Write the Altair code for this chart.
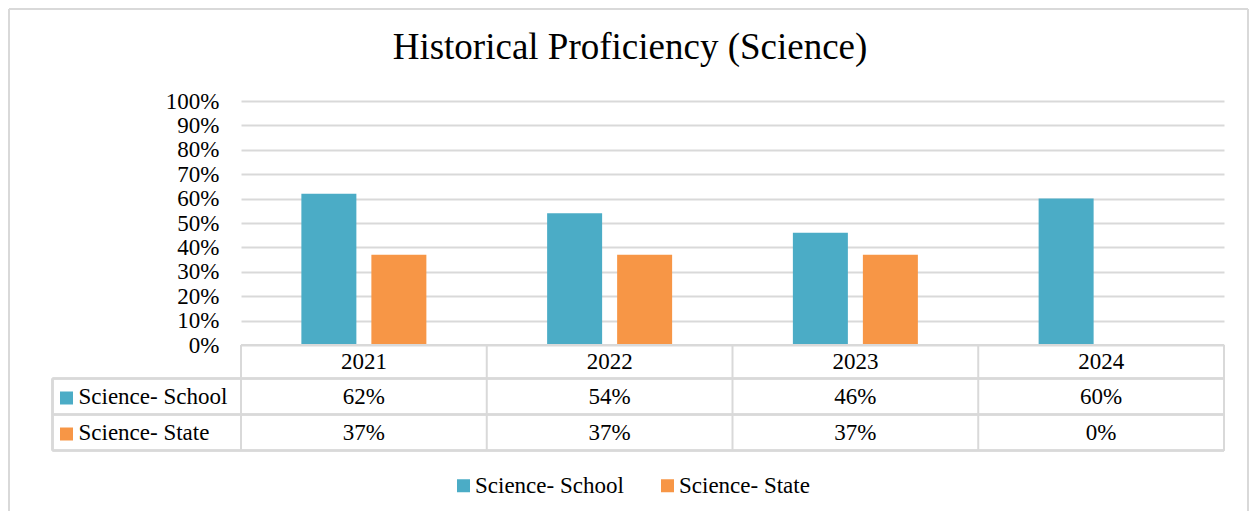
import altair as alt
import pandas as pd

years = ["2021", "2022", "2023", "2024"]
series = ["Science- School", "Science- State"]
school = [0.62, 0.54, 0.46, 0.60]
state = [0.37, 0.37, 0.37, 0.0]
colors = ["#4BACC6", "#F79646"]
title_text = "Historical Proficiency (Science)"

rows = []
for y, v in zip(years, school):
    rows.append({"year": y, "series": series[0], "value": v})
for y, v in zip(years, state):
    rows.append({"year": y, "series": series[1], "value": v})
df = pd.DataFrame(rows)
years_df = pd.DataFrame({"year": years})

FONT = "Liberation Serif, Times New Roman, serif"
GRID = "#D9D9D9"
W, H = 983, 244
base = alt.Chart(df)

xenc = alt.X("year:N", sort=years, axis=None,
             scale=alt.Scale(paddingInner=0, paddingOuter=0))

bars = base.mark_bar().encode(
    x=xenc,
    xOffset=alt.XOffset("series:N", sort=series,
                        scale=alt.Scale(paddingInner=0.2143, paddingOuter=0.8625)),
    y=alt.Y("value:Q", title=None,
            scale=alt.Scale(domain=[0, 1], nice=False),
            axis=alt.Axis(format=".0%", values=[i / 10 for i in range(11)],
                          domain=False, ticks=False, gridColor=GRID, gridWidth=2,
                          labelFont=FONT, labelFontSize=23, labelColor="black",
                          labelPadding=22)),
    color=alt.Color("series:N", sort=series,
                    scale=alt.Scale(domain=series, range=colors),
                    legend=alt.Legend(title=None, orient="none", direction="horizontal",
                                      legendX=211, legendY=373, padding=0,
                                      symbolType="square", symbolSize=169,
                                      symbolStrokeWidth=0, labelOffset=0,
                                      columnPadding=32, labelFont=FONT,
                                      labelFontSize=23, labelColor="black")),
)

line_style = dict(color=GRID, strokeWidth=2)

# header year labels
header = alt.Chart(years_df).mark_text(font=FONT, fontSize=23, color="black",
                                       baseline="middle").encode(
    x=xenc, y=alt.value(261), text="year:N")

# vertical table lines at band starts
vlines = alt.Chart(years_df).mark_rule(**line_style).encode(
    x=alt.X("year:N", sort=years, bandPosition=0, axis=None),
    y=alt.value(244), y2=alt.value(349.5))

extra = []
extra.append(alt.Chart(years_df).mark_rule(**line_style).encode(
    x=alt.value(W), y=alt.value(244), y2=alt.value(349.5)))
extra.append(alt.Chart(years_df).mark_rule(**line_style).encode(
    x=alt.value(-188.5), y=alt.value(277.5), y2=alt.value(349.5)))
extra.append(alt.Chart(years_df).mark_rule(**line_style).encode(
    x=alt.value(0), x2=alt.value(W), y=alt.value(244)))
for yy in [277.5, 313.5, 349.5]:
    extra.append(alt.Chart(years_df).mark_rule(**line_style).encode(
        x=alt.value(-188.5), x2=alt.value(W), y=alt.value(yy)))

# table rows
row_y = [295.5, 331.5]
for s, c, ry in zip(series, colors, row_y):
    sub = base.transform_filter(alt.datum.series == s)
    extra.append(sub.mark_text(font=FONT, fontSize=23, color="black",
                               baseline="middle").encode(
        x=xenc, y=alt.value(ry), text=alt.Text("value:Q", format=".0%")))
    lab = alt.Chart(pd.DataFrame({"series": [s]}))
    extra.append(lab.mark_square(size=169, color=c, opacity=1).encode(
        x=alt.value(-174.5), y=alt.value(ry + 1.5)))
    extra.append(lab.mark_text(font=FONT, fontSize=23, color="black", align="left",
                               baseline="middle").encode(
        x=alt.value(-162.5), y=alt.value(ry), text="series:N"))

# title
extra.append(alt.Chart(pd.DataFrame({"t": [title_text]})).mark_text(
    font=FONT, fontSize=37, color="black", align="center",
    baseline="alphabetic").encode(x=alt.value(389), y=alt.value(-42), text="t:N"))

# outer border (top, left, right)
bd = alt.Chart(pd.DataFrame({"t": [0]}))
extra.append(bd.mark_rule(**line_style).encode(
    x=alt.value(-232), x2=alt.value(1007), y=alt.value(-92)))
extra.append(bd.mark_rule(**line_style).encode(
    x=alt.value(-232), y=alt.value(-92), y2=alt.value(410)))
extra.append(bd.mark_rule(**line_style).encode(
    x=alt.value(1007), y=alt.value(-92), y2=alt.value(410)))

chart = alt.layer(bars, header, vlines, *extra).properties(
    width=W, height=H,
    autosize=alt.AutoSizeParams(type="none"),
    padding={"left": 233, "top": 93, "right": 25, "bottom": 166},
).configure_view(stroke=None)

chart.save("out.html", embed_options={"renderer": "svg", "actions": False})
